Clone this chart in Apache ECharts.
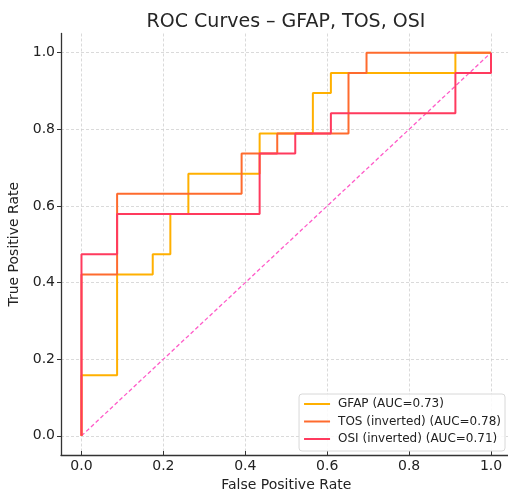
<!DOCTYPE html>
<html>
<head>
<meta charset="utf-8">
<title>ROC Curves</title>
<script src="https://cdn.jsdelivr.net/npm/echarts@6/dist/echarts.min.js"></script>
<style>
  html, body { margin: 0; padding: 0; background: #fff; }
  #chart { width: 508px; height: 490px; }
</style>
</head>
<body>
<div id="chart"></div>
<script>
// ROC points (corners of the step curves)
const gfapFpr = [0, 0, 0.087, 0.087, 0.174, 0.174, 0.217, 0.217, 0.261, 0.261, 0.435, 0.435, 0.565, 0.565, 0.609, 0.609, 0.913, 0.913, 1];
const gfapTpr = [0, 0.158, 0.158, 0.421, 0.421, 0.474, 0.474, 0.579, 0.579, 0.684, 0.684, 0.789, 0.789, 0.895, 0.895, 0.947, 0.947, 1, 1];

const tosFpr = [0, 0, 0.087, 0.087, 0.391, 0.391, 0.478, 0.478, 0.652, 0.652, 0.696, 0.696, 1];
const tosTpr = [0, 0.421, 0.421, 0.632, 0.632, 0.737, 0.737, 0.789, 0.789, 0.947, 0.947, 1, 1];

const osiFpr = [0, 0, 0.087, 0.087, 0.435, 0.435, 0.522, 0.522, 0.609, 0.609, 0.913, 0.913, 1, 1];
const osiTpr = [0, 0.474, 0.474, 0.579, 0.579, 0.737, 0.737, 0.789, 0.789, 0.842, 0.842, 0.947, 0.947, 1];

const chanceLine = [[0, 0], [1, 1]];

const seriesNames = ["GFAP (AUC=0.73)", "TOS (inverted) (AUC=0.78)", "OSI (inverted) (AUC=0.71)"];
const tickValues = [0, 0.2, 0.4, 0.6, 0.8, 1.0];

const colors = ["#FFB000", "#FE6B2E", "#FF3A5E"];
const font = "DejaVu Sans";

function pairs(xs, ys) {
  return xs.map((x, i) => [x, ys[i]]);
}

const chart = echarts.init(document.getElementById("chart"), null, { renderer: "canvas" });

const axisCommon = {
  type: "value",
  min: -0.05,
  max: 1.05,
  axisLine: { show: true, onZero: false, lineStyle: { color: "#333", width: 1.3 } },
  splitLine: { show: true, lineStyle: { color: "#d0d0d0", type: [3, 2], width: 0.8 } },
  axisLabel: {
    customValues: tickValues,
    formatter: (v) => v.toFixed(1),
    color: "#222",
    fontFamily: font,
    fontSize: 14,
  },
  nameLocation: "middle",
  nameTextStyle: { color: "#222", fontFamily: font, fontSize: 14 },
};

const option = {
  animation: false,
  title: {
    text: "ROC Curves \u2013 GFAP, TOS, OSI",
    left: 281,
    textAlign: "center",
    top: 8,
    textStyle: { color: "#262626", fontFamily: font, fontSize: 19, fontWeight: "normal" },
  },
  // plot box is fixed, labels may sit outside it
  grid: {
    left: 61, top: 33.5, width: 450.5, height: 421.5,
    outerBoundsMode: "none", containLabel: false,
    show: false, borderWidth: 0,
  },
  legend: {
    data: seriesNames,
    orient: "vertical",
    right: 3,
    top: 394,
    icon: "rect",
    itemWidth: 26,
    itemHeight: 2,
    itemGap: 3.5,
    padding: [3, 4, 5, 5],
    borderColor: "#d8d8d8",
    borderWidth: 1,
    borderRadius: 3,
    backgroundColor: "rgba(255,255,255,0.85)",
    textStyle: { color: "#222", fontFamily: font, fontSize: 12, lineHeight: 14, padding: [0, 0, 0, 3] },
  },
  xAxis: Object.assign({}, axisCommon, {
    name: "False Positive Rate",
    nameGap: 19,
    axisTick: { show: true, inside: true, length: 4, customValues: tickValues, lineStyle: { color: "#333" } },
    axisLabel: Object.assign({}, axisCommon.axisLabel, { margin: 4 }),
  }),
  yAxis: Object.assign({}, axisCommon, {
    name: "True Positive Rate",
    nameGap: 34,
    axisTick: { show: true, inside: false, length: 4, customValues: tickValues, lineStyle: { color: "#333" } },
    axisLabel: Object.assign({}, axisCommon.axisLabel, { margin: 6 }),
  }),
  series: [
    {
      name: seriesNames[0],
      type: "line",
      showSymbol: false,
      data: pairs(gfapFpr, gfapTpr),
      itemStyle: { color: colors[0] },
      lineStyle: { color: colors[0], width: 2 },
    },
    {
      name: seriesNames[1],
      type: "line",
      showSymbol: false,
      data: pairs(tosFpr, tosTpr),
      itemStyle: { color: colors[1] },
      lineStyle: { color: colors[1], width: 2 },
    },
    {
      name: seriesNames[2],
      type: "line",
      showSymbol: false,
      data: pairs(osiFpr, osiTpr),
      itemStyle: { color: colors[2] },
      lineStyle: { color: colors[2], width: 2 },
    },
    {
      name: "chance",
      type: "line",
      showSymbol: false,
      data: chanceLine,
      lineStyle: { color: "#FF5BC8", width: 1.3, type: [4, 2.5] },
      z: 1,
    },
  ],
};

chart.setOption(option);
</script>
</body>
</html>
